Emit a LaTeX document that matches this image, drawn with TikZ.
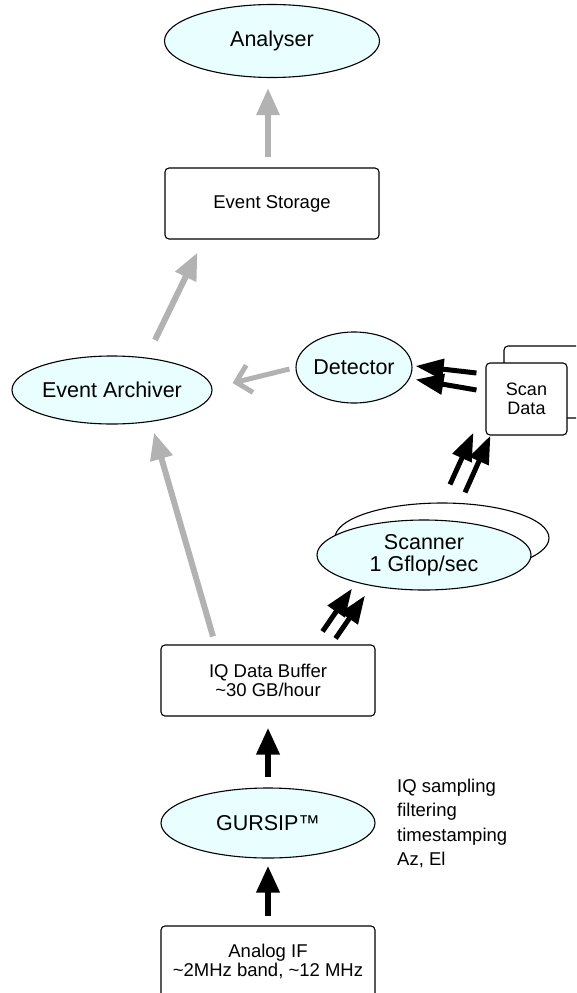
\documentclass[tikz,border=0pt]{standalone}
\usepackage{fontspec}
\setmainfont{Liberation Sans}
\usetikzlibrary{shapes.geometric,arrows.meta}
\definecolor{cyanfill}{RGB}{232,254,255}
\definecolor{arrgray}{RGB}{178,178,178}
\tikzset{
  ell/.style={ellipse, draw, line width=1.1pt, fill=cyanfill, inner sep=0pt,
    font=\fontsize{21.5}{21.5}\selectfont, align=center},
  box/.style={rectangle, draw, line width=1.1pt, rounded corners=4pt, fill=white,
    inner sep=0pt, font=\fontsize{18.5}{18.5}\selectfont, align=center},
  bigblk/.style={line width=6.5pt, -{Triangle[length=27pt,width=22pt]}},
  dblblk/.style={line width=5pt, -{Triangle[length=28pt,width=20pt]}},
  gry/.style={color=arrgray, line width=6pt, -{Triangle[length=27pt,width=22pt]}},
  gryopen/.style={color=arrgray, line width=5pt, -{Straight Barb[length=14pt,width=28pt]}},
  note/.style={inner sep=0pt, align=left, font=\fontsize{18.5}{24.5}\selectfont}
}
\begin{document}
\begin{tikzpicture}[x=1pt,y=-1pt]
\useasboundingbox (0,0) rectangle (576,993);
\clip (0,0) rectangle (576,993);

\node[ell, minimum width=215pt, minimum height=73pt] (anal) at (272,41) {Analyser};
\node[box, minimum width=214pt, minimum height=71pt] (store) at (272,203.5) {Event Storage};
\node[ell, minimum width=200pt, minimum height=68pt] (arch) at (112,390) {Event Archiver};
\node[ell, minimum width=116pt, minimum height=71pt] (det) at (354,367.5) {Detector};

\node[box, minimum width=81pt, minimum height=72pt] (sdback) at (544.5,382) {};
\node[box, minimum width=81pt, minimum height=72pt, font=\fontsize{18}{19.5}\selectfont] (sd) at (526.5,399) {Scan\\Data};

\node[ell, fill=white, minimum width=214pt, minimum height=70pt] (scanback) at (442,538) {};
\node[ell, minimum width=214pt, minimum height=70pt] (scanner) at (424,555) {Scanner\\1 Gflop/sec};

\node[box, minimum width=214pt, minimum height=71pt] (buf) at (268,680.5) {IQ Data Buffer\\\textasciitilde30 GB/hour};
\node[ell, minimum width=214pt, minimum height=70pt] (gur) at (268,823) {GURSIP™};
\node[box, minimum width=214pt, minimum height=71pt] (analog) at (268,961.5) {Analog IF\\\textasciitilde2MHz band, \textasciitilde12 MHz};

\node[note, anchor=north west] (notes) at (397,778.5) {IQ sampling\\filtering\\timestamping\\Az, El};

% gray connectors
\draw[gry] ([shift={(-4,-10)}]store.north) -- ([shift={(-4,10)}]anal.south);
\draw[gry] ([shift={(43,-50)}]arch.center) -- ([shift={(33,13)}]store.south west);
\draw[gryopen] ([shift={(-6,1.5)}]det.west) -- ([shift={(20,-7)}]arch.east);
\draw[gry] ([shift={(-55,-8)}]buf.north) -- ([shift={(42,8)}]arch.south);

% double black connectors
\draw[dblblk] ([shift={(-9,-26)}]sd.west) -- ([shift={(3,-1.5)}]det.east);
\draw[dblblk] ([shift={(-9,-9)}]sd.west) -- ([shift={(3,12)}]det.east);
\draw[dblblk] ([shift={(26,-35)}]scanner.north) -- ([shift={(-12,-3)}]sd.south west);
\draw[dblblk] ([shift={(41,-27)}]scanner.north) -- ([shift={(5,0)}]sd.south west);
\draw[dblblk] ([shift={(-53,-13)}]buf.north east) -- ([shift={(-72,-2)}]scanner.south);
\draw[dblblk] ([shift={(-40,-6)}]buf.north east) -- ([shift={(-59,5)}]scanner.south);

% single black connectors
\draw[bigblk] ([shift={(0,-10)}]gur.north) -- ([shift={(0,11)}]buf.south);
\draw[bigblk] ([shift={(0,-9)}]analog.north) -- ([shift={(0,7)}]gur.south);
\end{tikzpicture}
\end{document}
